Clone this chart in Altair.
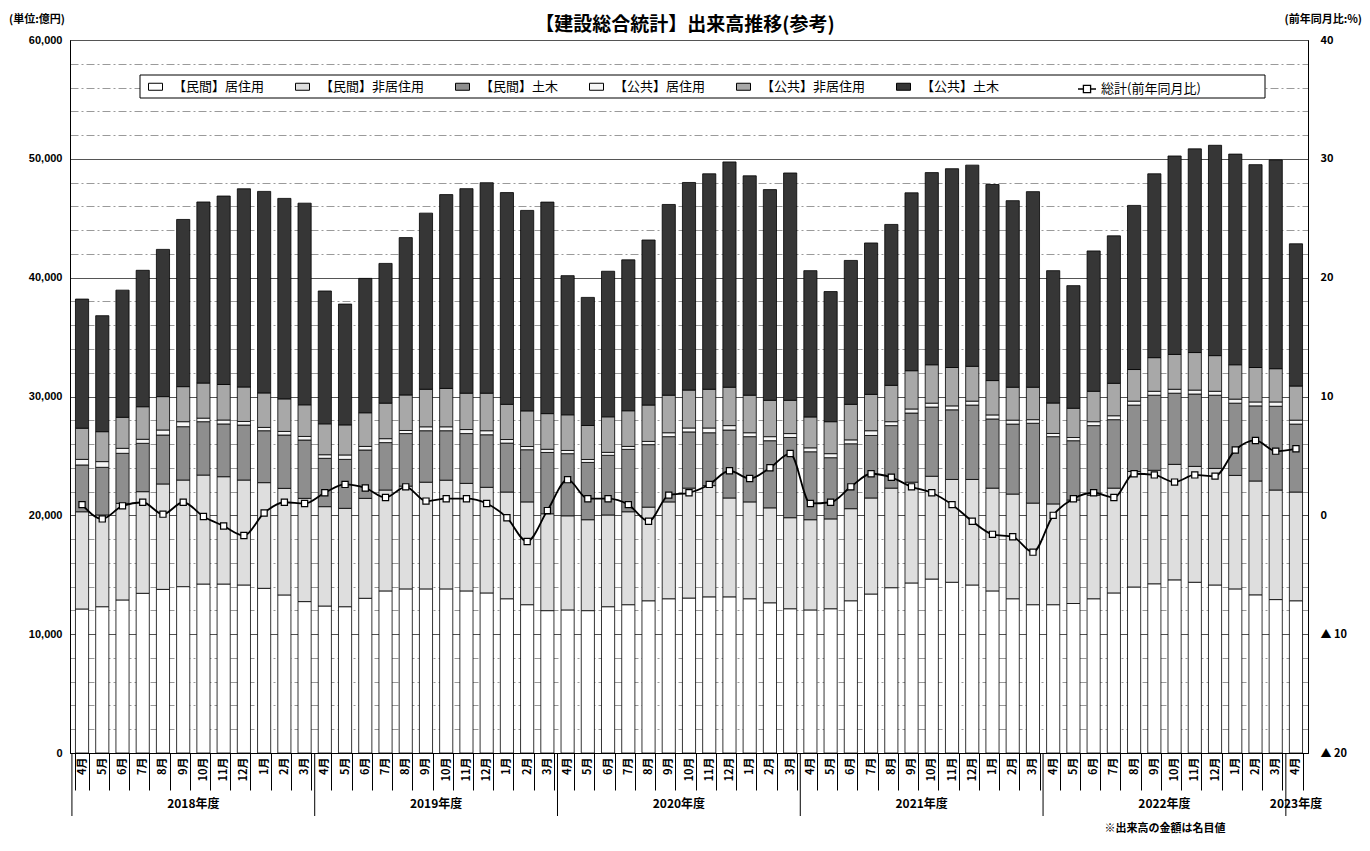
import altair as alt
import pandas as pd

FONT = "Noto Sans CJK JP"

fiscal_years = ["2018", "2019", "2020", "2021", "2022"]
fy_months = ["4", "5", "6", "7", "8", "9", "10", "11", "12", "1", "2", "3"]
periods = [f"{fy}-{m}" for fy in fiscal_years for m in fy_months] + ["2023-4"]

series_names = ["【民間】居住用", "【民間】非居住用", "【民間】土木",
                "【公共】居住用", "【公共】非居住用", "【公共】土木"]
series_colors = ["#ffffff", "#dedede", "#8e8e8e", "#f6f6f6", "#a8a8a8", "#363636"]

# 億円
min_res = [12120, 12310, 12880, 13440, 13770, 14000, 14220, 14220, 14140, 13860, 13300, 12740,
           12370, 12310, 13020, 13640, 13810, 13810, 13810, 13640, 13470, 12980, 12480, 11980,
           12040, 11980, 12310, 12480, 12810, 12980, 13040, 13140, 13140, 12980, 12640, 12140,
           12040, 12140, 12810, 13380, 13910, 14310, 14640, 14370, 14140, 13640, 12980, 12480,
           12480, 12580, 12980, 13470, 13970, 14240, 14570, 14370, 14140, 13810, 13310, 12910, 12810]
min_nonres = [8180, 7720, 8130, 8550, 8870, 8970, 9170, 9030, 8830, 8890, 8970, 8690,
              8360, 8280, 8410, 8490, 8650, 8980, 9150, 9050, 8890, 8980, 8650, 8150,
              7920, 7650, 7720, 7820, 7880, 8150, 9250, 9360, 8320, 8150, 7990, 7660,
              7590, 7560, 7750, 8080, 8380, 8480, 8650, 8650, 8880, 8650, 8810, 8550,
              8480, 8710, 8710, 8820, 9720, 9550, 9720, 9750, 9810, 9550, 9580, 9220, 9150]
min_civil = [3940, 4010, 4210, 4070, 4120, 4490, 4490, 4440, 4630, 4370, 4490, 4910,
             4070, 4120, 4070, 3990, 4420, 4330, 4160, 4190, 4420, 4120, 4390, 5160,
             5230, 4820, 5020, 5250, 5260, 5490, 4730, 4450, 5720, 5490, 5650, 6750,
             5720, 5150, 5460, 5260, 5260, 5820, 5820, 5860, 6260, 5820, 5890, 6720,
             5660, 4990, 5860, 5760, 5590, 6320, 5990, 6090, 6160, 6080, 6320, 7050, 5720]
pub_res = [470, 480, 420, 340, 420, 420, 300, 330, 300, 280, 300, 300,
           300, 370, 300, 330, 260, 330, 330, 340, 340, 300, 270, 270,
           270, 250, 250, 250, 270, 330, 330, 400, 370, 330, 340, 330,
           330, 340, 330, 400, 330, 340, 330, 330, 330, 340, 330, 300,
           270, 270, 330, 330, 330, 330, 330, 330, 330, 340, 330, 360, 330]
pub_nonres = [2620, 2520, 2610, 2740, 2810, 2950, 2950, 2990, 2900, 2900, 2740, 2660,
              2600, 2530, 2830, 2990, 2990, 3160, 3230, 3060, 3160, 2960, 3000, 3000,
              3000, 2860, 2990, 3000, 3060, 3160, 3190, 3260, 3230, 3160, 3060, 2800,
              2600, 2690, 2990, 3060, 3060, 3220, 3230, 3230, 2930, 2890, 2770, 2730,
              2560, 2460, 2560, 2730, 2660, 2830, 2930, 3160, 3000, 2890, 2900, 2800, 2870]
pub_civil = [10870, 9760, 10700, 11480, 12390, 14070, 15240, 15860, 16680, 16960, 16870, 16970,
             11180, 10170, 11310, 11760, 13240, 14820, 16310, 17210, 17710, 17820, 16870, 17800,
             11710, 10780, 12250, 12700, 13890, 16050, 17470, 18130, 18960, 18460, 17730, 19130,
             12310, 10950, 12110, 12740, 13540, 14970, 16170, 16730, 16930, 16500, 15700, 16460,
             11140, 10320, 11810, 12410, 13810, 15470, 16700, 17140, 17700, 17730, 17070, 17570, 11970]

# 総計 前年同月比 (%)
total_yoy = [0.9, -0.3, 0.8, 1.1, 0.1, 1.1, -0.1, -0.9, -1.7, 0.2, 1.1, 1.0,
             1.9, 2.6, 2.3, 1.5, 2.4, 1.2, 1.4, 1.4, 1.0, -0.2, -2.2, 0.4,
             3.0, 1.4, 1.4, 0.9, -0.5, 1.7, 1.9, 2.6, 3.75, 3.1, 4.0, 5.2,
             1.0, 1.1, 2.4, 3.5, 3.2, 2.4, 1.9, 0.9, -0.5, -1.6, -1.8, -3.1,
             0.0, 1.4, 1.9, 1.5, 3.5, 3.4, 2.8, 3.4, 3.3, 5.5, 6.3, 5.4, 5.6]

line_name = "総計(前年同月比)"
fy_label_periods = ["2018-9", "2019-9", "2020-9", "2021-9", "2022-9"]
fy_label_texts = ["2018年度", "2019年度", "2020年度", "2021年度", "2022年度"]
last_fy_period = ["2023-4"]
last_fy_text = ["2023年度"]
fy_start_periods = ["2018-4", "2019-4", "2020-4", "2021-4", "2022-4", "2023-4"]

rows = []
for idx, (name, vals) in enumerate(zip(series_names, [min_res, min_nonres, min_civil,
                                                      pub_res, pub_nonres, pub_civil])):
    for p, v in zip(periods, vals):
        rows.append({"period": p, "series": name, "value": v, "idx": idx})
bars_df = pd.DataFrame(rows)
yoy_df = pd.DataFrame({"period": periods, "yoy": total_yoy, "name": [line_name] * len(periods)})

x_scale = alt.Scale(domain=periods, paddingInner=0.35, paddingOuter=0.27)
HALF_GAP = 3.54  # half of the inner band gap, px

x_axis = alt.Axis(labelExpr="isString(datum.value) ? split(datum.value, '-')[1] + '月' : ''",
                  labelAngle=270, labelAlign="right", labelBaseline="middle",
                  tickBand="extent", tickSize=37, tickColor="black", tickWidth=1,
                  domainColor="black", labelPadding=-33, labelFont=FONT,
                  labelFontSize=11, labelFontWeight="bold", labelColor="black",
                  grid=False, title=None)


def xenc(**kw):
    return alt.X("period:N", scale=x_scale, title=None, **kw)


bars = alt.Chart(bars_df).mark_bar(stroke="black", strokeWidth=0.8).encode(
    x=alt.X("period:N", scale=x_scale, title=None, axis=x_axis),
    y=alt.Y("value:Q", stack="zero", scale=alt.Scale(domain=[0, 60000], nice=False), title=None,
            axis=alt.Axis(values=list(range(0, 60001, 2000)),
                          labelExpr="datum.value % 10000 === 0 ? format(datum.value, ',') : ''",
                          ticks=False, labelPadding=8, labelFont="Liberation Sans",
                          labelFontSize=11, labelFontWeight="bold", labelColor="black",
                          domainColor="black",
                          gridColor={"condition": {"test": "datum.value % 10000 === 0", "value": "#555555"},
                                     "value": "#9a9a9a"},
                          gridDash={"condition": {"test": "datum.value % 10000 === 0", "value": []},
                                    "value": [8, 3, 2, 3]},
                          gridWidth=1)),
    fill=alt.Fill("series:N", scale=alt.Scale(domain=series_names, range=series_colors),
                  legend=alt.Legend(title=None, orient="none", legendX=78, legendY=39,
                                    direction="horizontal", symbolType="M-1,-0.5H1V0.5H-1Z",
                                    symbolSize=196, symbolStrokeColor="black", symbolStrokeWidth=1,
                                    labelFont=FONT, labelFontSize=13, labelColor="black",
                                    labelOffset=10, columnPadding=28, padding=0, labelLimit=300)),
    order=alt.Order("idx:Q", sort="ascending"),
)

y_right_scale = alt.Scale(domain=[-20, 40], nice=False, zero=False)

line = alt.Chart(yoy_df).mark_line(strokeWidth=1.8, interpolate="monotone").encode(
    x=xenc(),
    y=alt.Y("yoy:Q", scale=y_right_scale, title=None,
            axis=alt.Axis(orient="right", values=[-20, -10, 0, 10, 20, 30, 40],
                          labelExpr="datum.value < 0 ? '▲ ' + abs(datum.value) : datum.value",
                          grid=False, ticks=False, labelPadding=12, labelAlign="left",
                          labelFont=FONT, labelFontSize=11, labelFontWeight="bold",
                          labelColor="black", domainColor="black")),
    stroke=alt.Stroke("name:N", scale=alt.Scale(domain=[line_name], range=["black"]),
                      legend=alt.Legend(title=None, orient="none", legendX=1007, legendY=39,
                                        symbolType="M-1,0H-0.4M0.4,0H1M-0.4,-0.4H0.4V0.4H-0.4Z",
                                        symbolSize=324, symbolStrokeWidth=1.3,
                                        labelFont=FONT, labelFontSize=13, labelColor="black",
                                        labelOffset=4, padding=0, labelLimit=300)),
)

points = alt.Chart(yoy_df).mark_point(shape="square", filled=True, fill="white", stroke="black",
                                      size=38, strokeWidth=1.2, opacity=1).encode(
    x=xenc(),
    y=alt.Y("yoy:Q", scale=y_right_scale, axis=None),
)

fy_rules = alt.Chart(pd.DataFrame({"period": fy_start_periods})).mark_rule(
    color="black", strokeWidth=1, xOffset=-HALF_GAP).encode(
    x=xenc(bandPosition=0),
    y=alt.value(713), y2=alt.value(776),
)

fy_labels = alt.Chart(pd.DataFrame({"period": fy_label_periods, "label": fy_label_texts})).mark_text(
    font=FONT, fontSize=12, fontWeight="bold", baseline="middle", color="black",
    dx=HALF_GAP).encode(
    x=xenc(bandPosition=1),
    y=alt.value(764), text="label:N",
)

last_fy_label = alt.Chart(pd.DataFrame({"period": last_fy_period, "label": last_fy_text})).mark_text(
    font=FONT, fontSize=12, fontWeight="bold", baseline="middle", color="black").encode(
    x=xenc(bandPosition=0.5),
    y=alt.value(764), text="label:N",
)

legend_box = alt.Chart(pd.DataFrame({"a": [0]})).mark_rect(
    fill="white", stroke="black", strokeWidth=1).encode(
    x=alt.value(70), x2=alt.value(1195), y=alt.value(35), y2=alt.value(58),
)


def note(text, x, y, size, align, weight="bold", baseline="middle"):
    return alt.Chart(pd.DataFrame({"t": [text]})).mark_text(
        font=FONT, fontSize=size, align=align, baseline=baseline, fontWeight=weight,
        color="black").encode(x=alt.value(x), y=alt.value(y), text="t:N")


title = note("【建設総合統計】出来高推移(参考)", 615, -9, 19, "center", baseline="alphabetic")
unit_left = note("(単位:億円)", -61, -20, 11, "left")
unit_right = note("(前年同月比:%)", 1292, -20, 11, "right")
footnote = note("※出来高の金額は名目値", 1095, 789, 11, "center")

chart = alt.layer(
    bars, line, points, fy_rules, fy_labels, last_fy_label, legend_box,
    title, unit_left, unit_right, footnote,
).resolve_scale(
    y="independent"
).properties(
    width=1238, height=713,
    padding={"left": 62, "top": 32, "right": 54, "bottom": 82},
    autosize=alt.AutoSizeParams(type="none"),
).configure_view(
    stroke="black", strokeWidth=1
)

chart.save("out.html", embed_options={"renderer": "svg", "actions": False})
